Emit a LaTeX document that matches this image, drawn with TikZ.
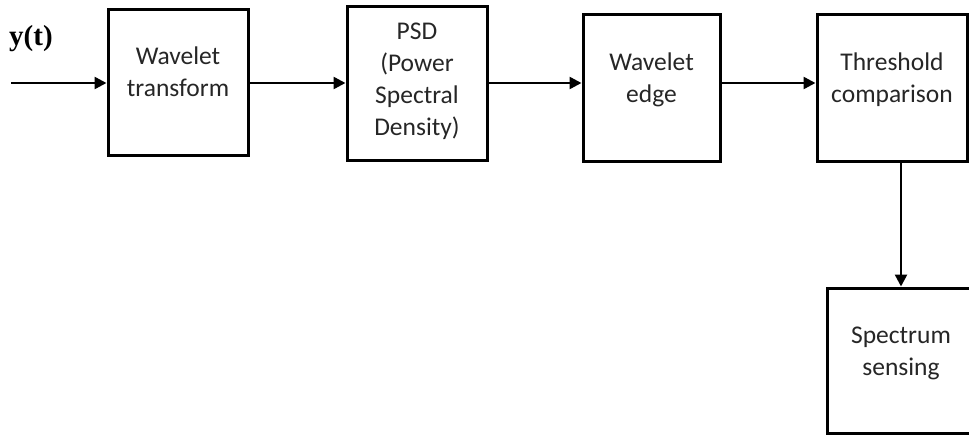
\documentclass[tikz,border=0pt]{standalone}
\usepackage{fontspec}
\setmainfont{Carlito}
\newfontfamily\sigfont{Liberation Serif}
\usetikzlibrary{arrows.meta,positioning}

\begin{document}
\begin{tikzpicture}[x=1pt,y=-1pt,
  blk/.style={draw,line width=3pt,inner sep=0pt},
  txt/.style={align=center,inner sep=0pt,text=black!85,font=\fontsize{25.5}{32}\selectfont},
  sig/.style={inner sep=0pt,font=\sigfont\bfseries\fontsize{29}{32}\selectfont},
  arr/.style={line width=2.5pt,-{Triangle[length=12pt,width=12pt]}}]
\useasboundingbox (0,0) rectangle (969,434);
% blocks
\node[blk,minimum width=140pt,minimum height=146pt] (wt) at (178,82) {};
\node[blk,minimum width=140pt,minimum height=154pt] (psd) at (417,83) {};
\node[blk,minimum width=137pt,minimum height=147pt] (we) at (651.5,87.5) {};
\node[blk,minimum width=150pt,minimum height=147pt] (tc) at (892,87.5) {};
\node[blk,minimum width=148pt,minimum height=145pt] (ss) at (901,360.5) {};
% block texts
\node[txt,below=39pt of wt.north] (wt-l) {Wavelet\\transform};
\node[txt,below=18pt of psd.north] (psd-l) {PSD\\(Power\\Spectral\\Density)};
\node[txt,below=40pt of we.north] (we-l) {Wavelet\\edge};
\node[txt,below=40pt of tc.north] (tc-l) {Threshold\\comparison};
\node[txt,below=40pt of ss.north] (ss-l) {Spectrum\\sensing};
% input
\node[sig,anchor=base west] (yt) at (9,45) {y(t)};
\coordinate (yin) at (11,83);
% connectors
\draw[arr] (yin) -- (wt.west |- yin);
\draw[arr] (wt.east |- yin) -- (psd.west |- yin);
\draw[arr] (psd.east |- yin) -- (we.west |- yin);
\draw[arr] (we.east |- yin) -- (tc.west |- yin);
\draw[arr] (tc.south -| ss.north) -- (ss.north);
\end{tikzpicture}
\end{document}
